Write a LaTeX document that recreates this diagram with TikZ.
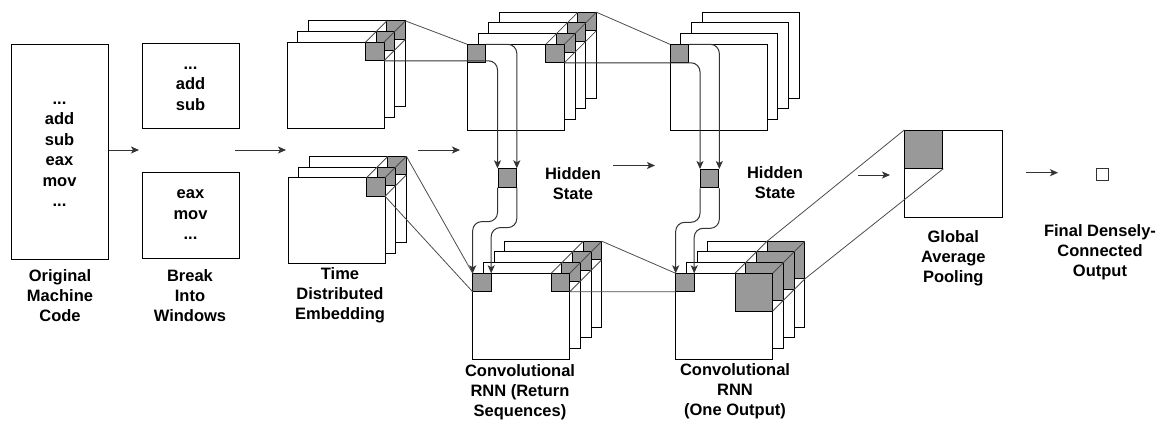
\documentclass[tikz,border=0pt]{standalone}
\usepackage{fontspec}
\setmainfont{Liberation Sans}
\usetikzlibrary{arrows.meta}
\definecolor{sqgray}{RGB}{153,153,153}
\definecolor{lngray}{RGB}{51,51,51}
\def\ww{97}\def\hh{86}\def\dd{10.7}\def\sS{18.5}
\newcommand\layerstack[6]{%
  \pgfmathtruncatemacro\nm{#4-1}%
  \foreach \i in {\nm,...,0}{%
    \draw[lay] ({#2+\i*\dd},{#3-\i*\dd}) rectangle ++(\ww,\hh);
    \ifdim #5pt>0pt \draw[gsq] ({#2+\i*\dd+\ww-#5},{#3-\i*\dd}) rectangle ++(#5,#5);\fi
  }%
  \coordinate (#1-fTL) at ({#2+\ww-#5},{#3});
  \coordinate (#1-fTR) at ({#2+\ww},{#3});
  \coordinate (#1-fBR) at ({#2+\ww},{#3+#5});
  \coordinate (#1-bTL) at ({#2+\nm*\dd+\ww-#5},{#3-\nm*\dd});
  \coordinate (#1-bTR) at ({#2+\nm*\dd+\ww},{#3-\nm*\dd});
  \coordinate (#1-bBR) at ({#2+\nm*\dd+\ww},{#3-\nm*\dd+#5});
  \ifdim #5pt>0pt \draw[proj] (#1-fTL)--(#1-bTL) (#1-fTR)--(#1-bTR) (#1-fBR)--(#1-bBR);\fi
  \ifnum#6=1 \draw[gsq] (#2,#3) rectangle ++(\sS,\sS);\fi
  \coordinate (#1-lTL) at (#2,#3);
  \coordinate (#1-lTR) at ({#2+\sS},#3);
  \coordinate (#1-lBL) at (#2,{#3+\sS});
}
\begin{document}
\begin{tikzpicture}[x=1pt,y=-1pt,
  lbl/.style={font=\bfseries\fontsize{16.5}{20}\selectfont, align=center, inner sep=0pt},
  box/.style={draw=black, fill=white, line width=1pt, inner sep=0pt, font=\bfseries\fontsize{16.5}{20.5}\selectfont, align=center},
  lay/.style={draw=black, fill=white, line width=1pt},
  gsq/.style={draw=black, fill=sqgray, line width=1pt},
  proj/.style={draw=black!70, line width=0.8pt},
  arr/.style={draw=lngray, line width=1pt, -{Stealth[length=8pt,width=7pt,inset=2pt]}},
  flow/.style={arr, rounded corners=9pt},
]
\useasboundingbox (0,0) rectangle (1163,424);

% input boxes
\node[box, minimum width=97pt, minimum height=215pt] (orig) at (59.5,151.5) {\strut...\\add\\sub\\eax\\mov\\...\strut};
\node[box, minimum width=97pt, minimum height=85pt] (win1) at (190.5,85.5) {\strut...\\add\\sub\strut};
\node[box, minimum width=97pt, minimum height=86pt] (win2) at (190.5,215) {\strut eax\\mov\\...\strut};

% stacks
\layerstack{embT}{287}{42.3}{3}{18.5}{0}
\layerstack{embB}{288}{177.7}{3}{18.5}{0}
\layerstack{cAT}{467.3}{44.3}{4}{18.5}{1}
\layerstack{cBT}{670}{44.3}{4}{0}{1}
\layerstack{cAB}{472.7}{273.3}{4}{18.5}{1}
\layerstack{cBB}{675.7}{273.3}{4}{37.7}{1}

% hidden state squares
\node[gsq, minimum size=18.3pt, inner sep=0pt, anchor=north west] (h1) at (497.5,168.3) {};
\node[gsq, minimum size=18.3pt, inner sep=0pt, anchor=north west] (h2) at (700,169) {};

% pooling
\node[draw=black, fill=white, line width=1pt, minimum width=97.4pt, minimum height=86.7pt, inner sep=0pt, anchor=north west] (pool) at (904.3,130) {};
\node[gsq, minimum width=38pt, minimum height=37.7pt, inner sep=0pt, anchor=north west] (poolg) at (904.3,130) {};

% output
\node[draw=lngray, fill=white, line width=1pt, minimum size=11.5pt, inner sep=0pt] (out) at (1102.5,174.5) {};

% projection lines
\draw[proj] (embT-bTR) -- (cAT-lTL);
\draw[proj] (embB-bTR) -- (cAB-lTL) (embB-fBR) -- (cAB-lBL);
\draw[proj] (cAT-bTR) -- (cBT-lTL);
\draw[proj] (cAB-bTR) -- (cBB-lTL) (cAB-fBR) -- (cBB-lBL);
\draw[proj] (cBB-bTL) -- (poolg.north west) (cBB-bBR) -- (poolg.south east);

% hidden state flows
\draw[flow] (embT-fBR) -- (h1.north west |- embT-fBR) -- (h1.north west);
\draw[flow] (cAT-lTR) -- (h1.north east |- cAT-lTR) -- (h1.north east);
\draw[flow] (h1.south west) -- ++(0,34) -| (cAB-lTL);
\draw[flow] (h1.south east) -- ++(0,40) -| (cAB-lTR);
\draw[flow] (cAT-fBR) -- (h2.north west |- cAT-fBR) -- (h2.north west);
\draw[flow] (cBT-lTR) -- (h2.north east |- cBT-lTR) -- (h2.north east);
\draw[flow] (h2.south west) -- ++(0,34) -| (cBB-lTL);
\draw[flow] (h2.south east) -- ++(0,40) -| (cBB-lTR);

% stage arrows
\coordinate (a1e) at (139,150);
\coordinate (a2s) at (235,150); \coordinate (a2e) at (286,150);
\coordinate (a3s) at (418,150); \coordinate (a3e) at (460,150);
\coordinate (a4s) at (613,165.5); \coordinate (a4e) at (655,165.5);
\coordinate (a5s) at (858,175); \coordinate (a5e) at (890,175);
\coordinate (a6s) at (1026,172.7); \coordinate (a6e) at (1058,172.7);
\draw[arr] (orig.east |- a1e) -- (a1e);
\draw[arr] (a2s) -- (a2e);
\draw[arr] (a3s) -- (a3e);
\draw[arr] (a4s) -- (a4e);
\draw[arr] (a5s) -- (a5e);
\draw[arr] (a6s) -- (a6e);

% labels
\node[lbl] (l1) at (60,295.5) {Original\\Machine\\Code};
\node[lbl] (l2) at (190,295.5) {Break\\Into\\Windows};
\node[lbl] (l3) at (340,295.5) {Time\\Distributed\\Embedding};
\node[lbl] (l4) at (520,392) {Convolutional\\RNN (Return\\Sequences)};
\node[lbl] (l5) at (735,391.5) {Convolutional\\RNN\\(One Output)};
\node[lbl] (hs1) at (573,184) {Hidden\\State};
\node[lbl] (hs2) at (775,182.5) {Hidden\\State};
\node[lbl] (l6) at (953.3,258) {Global\\Average\\Pooling};
\node[lbl] (l7) at (1100,252.5) {Final Densely-\\Connected\\Output};
\end{tikzpicture}
\end{document}
